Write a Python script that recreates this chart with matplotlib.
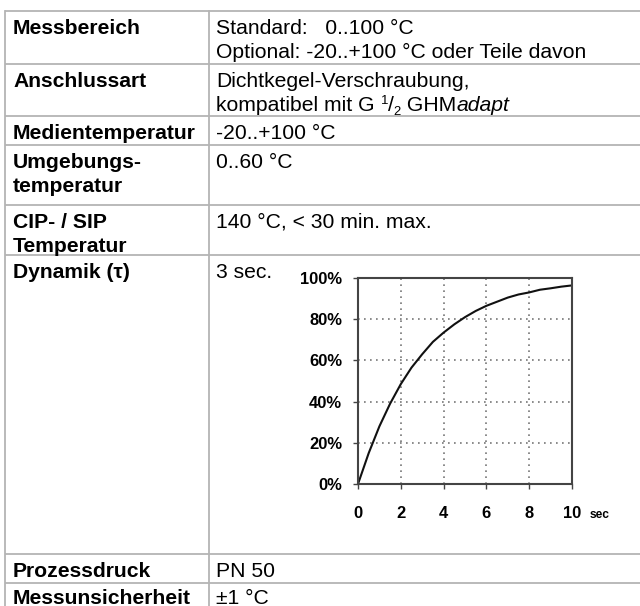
import matplotlib
matplotlib.use("Agg")
import matplotlib.pyplot as plt

# ---------------- data ----------------
row_labels = [["Messbereich"], ["Anschlussart"], ["Medientemperatur"],
              ["Umgebungs-", "temperatur"], ["CIP- / SIP", "Temperatur"],
              ["Dynamik (τ)"], ["Prozessdruck"], ["Messunsicherheit"]]
row_values = [["Standard:   0..100 °C", "Optional: -20..+100 °C oder Teile davon"],
              ["Dichtkegel-Verschraubung,", None],
              ["-20..+100 °C"], ["0..60 °C"], ["140 °C, < 30 min. max."],
              ["3 sec."], ["PN 50"], ["±1 °C"]]
time_s = [0, 0.5, 1, 1.5, 2, 2.5, 3, 3.5, 4, 4.5, 5, 5.5, 6, 6.5, 7, 7.5, 8, 8.5, 9, 9.5, 10]
response_pct = [0, 15, 28, 39, 48.5, 56.5, 63, 69, 73.5, 77.5, 81, 84, 86.5, 88.5,
                90.5, 92, 93, 94.3, 95, 95.8, 96.4]
x_ticks = [0, 2, 4, 6, 8, 10]
y_ticks = [0, 20, 40, 60, 80, 100]

# ---------------- layout ----------------
W, H = 640, 606
DPI = 100
FAM = ['Liberation Sans', 'DejaVu Sans']
plt.rcParams['font.family'] = FAM
FS = 21.2 * 72 / DPI          # px -> pt
row_tops = [10.7, 64.3, 116, 145, 205, 255, 554, 583, 640]
x_left, x_div = 5, 209
lab_x, val_x = 13, 216
first_base, line_step = 23, 24
line_col = '#b4b4b4'

fig = plt.figure(figsize=(W / DPI, H / DPI), dpi=DPI)
bg = fig.add_axes([0, 0, 1, 1])
bg.set_xlim(0, W)
bg.set_ylim(H, 0)
bg.axis('off')

for y in row_tops[:-1]:
    bg.plot([x_left, W], [y, y], color=line_col, lw=1.3, solid_capstyle='butt')
bg.plot([x_left, x_left], [row_tops[0], H], color=line_col, lw=1.3)
bg.plot([x_div, x_div], [row_tops[0], H], color=line_col, lw=1.3)

for i, (labs, vals) in enumerate(zip(row_labels, row_values)):
    top = row_tops[i]
    fb = first_base if i < len(row_labels) - 1 else first_base - 1.5
    for j, t in enumerate(labs):
        bg.text(lab_x, top + fb + j * line_step, t, fontsize=FS,
                fontweight='bold', va='baseline', ha='left', color='black')
    for j, t in enumerate(vals):
        if t is None:
            continue
        bg.text(val_x, top + fb + j * line_step, t, fontsize=FS,
                va='baseline', ha='left', color='black')

# composite second line of "Anschlussart"
fig.canvas.draw()
renderer = fig.canvas.get_renderer()
base_y = row_tops[1] + first_base + line_step
pieces = [("kompatibel mit G ", FS, 'normal', 0),
          ("1", FS * 0.62, 'normal', -7),
          ("/", FS, 'normal', 0),
          ("2", FS * 0.62, 'normal', 4),
          (" GHM", FS, 'normal', 0),
          ("adapt", FS, 'italic', 0)]
cur_x = val_x
inv = bg.transData.inverted()
for txt, size, style, dy in pieces:
    t = bg.text(cur_x, base_y + dy, txt, fontsize=size, style=style,
                va='baseline', ha='left', color='black')
    bb = t.get_window_extent(renderer)
    cur_x = inv.transform((bb.x1, 0))[0]

# ---------------- chart ----------------
ax_l, ax_r, ax_t, ax_b = 358, 572, 278, 484
ax = fig.add_axes([ax_l / W, 1 - ax_b / H, (ax_r - ax_l) / W, (ax_b - ax_t) / H])
ax.plot(time_s, response_pct, color='#111111', lw=1.5)
ax.set_xlim(0, 10)
ax.set_ylim(0, 100)
ax.set_xticks(x_ticks)
ax.set_yticks(y_ticks)
ax.set_yticklabels([f"{v}%" for v in y_ticks])
ax.set_xticklabels([str(v) for v in x_ticks])
tick_fs = 16.5 * 72 / DPI
for lab in ax.get_xticklabels() + ax.get_yticklabels():
    lab.set_fontweight('bold')
    lab.set_fontsize(tick_fs)
ax.tick_params(axis='both', direction='out', length=3.6, width=1.0, color='#444444')
ax.tick_params(axis='y', pad=8)
ax.tick_params(axis='x', pad=12.5)
for s in ax.spines.values():
    s.set_linewidth(1.5)
    s.set_color('#444444')
ax.grid(True, color='#777777', linestyle=(0, (1, 2.6)), linewidth=1.2)
ax.set_axisbelow(True)

# "sec" unit after the last x tick label, on the same baseline
fig.canvas.draw()
renderer = fig.canvas.get_renderer()
last = ax.get_xticklabels()[-1]
bb = last.get_window_extent(renderer)
fig.text((bb.x1 + 8) / (W), bb.y0 / (H), "sec", fontsize=12 * 72 / DPI,
         fontweight='bold', va='bottom', ha='left', color='black')

fig.savefig("out.png", dpi=DPI)
